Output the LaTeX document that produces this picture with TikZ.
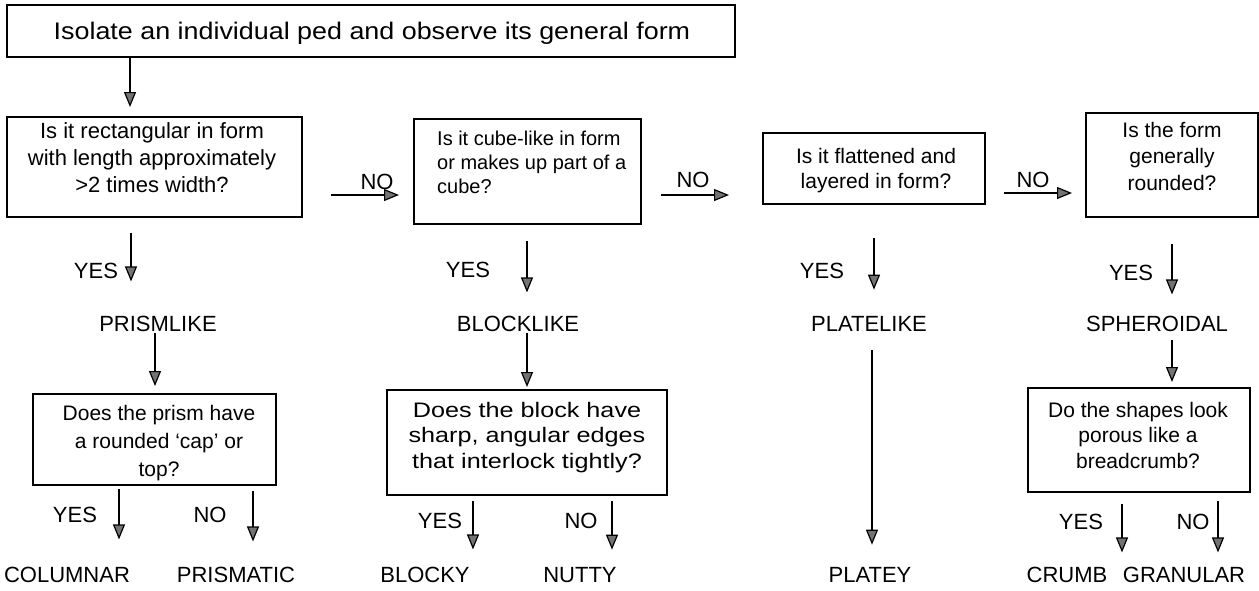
\documentclass[tikz,border=0pt]{standalone}
\usepackage{fontspec}
\setmainfont{Liberation Sans}
\usetikzlibrary{arrows.meta}
\newcommand\boxlines[2]{\begin{tabular}[t]{@{}#1@{}}#2\end{tabular}}
\begin{document}
\begin{tikzpicture}[x=1pt,y=-1pt,
  qbox/.style={draw, line width=2pt, inner sep=0pt},
  qtext/.style={font=\fontsize{21}{26}\selectfont, inner sep=0pt, anchor=base},
  lab/.style={font=\fontsize{22}{26}\selectfont, inner sep=0pt, anchor=base},
  arr/.style={line width=2pt, -{Triangle[length=15pt,width=12pt,fill=black!55,line width=1.2pt]}},
]
\fill[white] (0,0) rectangle (1259,590);
\useasboundingbox (0,0) rectangle (1259,590);

% question boxes
\node[qbox, minimum width=728pt, minimum height=52pt] (start) at (371,31) {};
\node[qbox, minimum width=295pt, minimum height=100pt] (q1) at (154.5,167) {};
\node[qbox, minimum width=227pt, minimum height=105pt] (q2) at (527.5,171.5) {};
\node[qbox, minimum width=222pt, minimum height=71pt] (q3) at (874,168.5) {};
\node[qbox, minimum width=172pt, minimum height=104pt] (q4) at (1172,165) {};
\node[qbox, minimum width=243pt, minimum height=91pt] (q5) at (154.5,439.5) {};
\node[qbox, minimum width=280pt, minimum height=105pt] (q6) at (527,442.5) {};
\node[qbox, minimum width=222pt, minimum height=104pt] (q7) at (1139,440) {};

% question texts
\node[qtext, font=\fontsize{24}{29}\selectfont] (startt) at (372,39)
  {\scalebox{1.12}[1]{Isolate an individual ped and observe its general form}};
\node[qtext, font=\fontsize{22}{27}\selectfont] (q1t) at (152,138)
  {\boxlines{c}{Is it rectangular in form\\with length approximately\\>2 times width?}};
\node[qtext, anchor=base west, font=\fontsize{20}{24}\selectfont] (q2t) at (437,145)
  {\boxlines{l}{Is it cube-like in form\\or makes up part of a\\cube?}};
\node[qtext, font=\fontsize{21}{25}\selectfont] (q3t) at (876,163)
  {\boxlines{c}{Is it flattened and\\layered in form?}};
\node[qtext, font=\fontsize{21}{26.5}\selectfont] (q4t) at (1172,137)
  {\boxlines{c}{Is the form\\generally\\rounded?}};
\node[qtext, font=\fontsize{21}{28}\selectfont] (q5t) at (159,420)
  {\boxlines{c}{Does the prism have\\a rounded ‘cap’ or\\top?}};
\node[qtext, font=\fontsize{21}{25.5}\selectfont] (q6t) at (527,417)
  {\scalebox{1.2}[1]{\boxlines{c}{Does the block have\\sharp, angular edges\\that interlock tightly?}}};
\node[qtext, font=\fontsize{21}{25.5}\selectfont] (q7t) at (1138,417)
  {\boxlines{c}{Do the shapes look\\porous like a\\breadcrumb?}};

% answer labels
\node[lab] (no1) at (377,189.5) {NO};
\node[lab] (no2) at (693,187.5) {NO};
\node[lab] (no3) at (1033,187) {NO};
\node[lab] (yes1) at (96,278) {YES};
\node[lab] (yes2) at (468,277) {YES};
\node[lab] (yes3) at (822,278) {YES};
\node[lab] (yes4) at (1131,280) {YES};
\node[lab] (yes5) at (75,522) {YES};
\node[lab] (no5) at (210,522) {NO};
\node[lab] (yes6) at (440,528) {YES};
\node[lab] (no6) at (581,528) {NO};
\node[lab] (yes7) at (1081,529) {YES};
\node[lab] (no7) at (1193,529) {NO};

% structure classes
\node[lab] (prism) at (158,331) {PRISMLIKE};
\node[lab] (block) at (518,331) {BLOCKLIKE};
\node[lab] (plate) at (869,331) {PLATELIKE};
\node[lab] (spher) at (1157,331) {SPHEROIDAL};

% structure types
\node[lab] (columnar) at (67,582) {COLUMNAR};
\node[lab] (prismatic) at (236,582) {PRISMATIC};
\node[lab] (blocky) at (425,582) {BLOCKY};
\node[lab] (nutty) at (580,582) {NUTTY};
\node[lab] (platey) at (870,582) {PLATEY};
\node[lab] (crumb) at (1067,582) {CRUMB};
\node[lab] (granular) at (1184,582) {GRANULAR};

% connectors
\draw[arr, shorten >=9pt] (start.south -| 130,0) -- (q1.north -| 130,0);
\draw[arr, shorten <=28pt, shorten >=14pt] (q1.east |- 0,195) -- (q2.west |- 0,195);
\draw[arr, shorten <=19pt, shorten >=33pt] (q2.east |- 0,195) -- (q3.west |- 0,195);
\draw[arr, shorten <=18pt, shorten >=13pt] (q3.east |- 0,193) -- (q4.west |- 0,193);

\draw[arr, shorten <=15pt, shorten >=34pt] (q1.south -| 131,0) -- (prism.north -| 131,0);
\draw[arr, shorten <=16pt, shorten >=23pt] (q2.south -| 527,0) -- (block.north -| 527,0);
\draw[arr, shorten <=33pt, shorten >=26pt] (q3.south -| 874,0) -- (plate.north -| 874,0);
\draw[arr, shorten <=26pt, shorten >=21pt] (q4.south -| 1172,0) -- (spher.north -| 1172,0);

\draw[arr, shorten <=2pt, shorten >=7pt] (prism.south -| 155,0) -- (q5.north -| 155,0);
\draw[arr, shorten <=2pt, shorten >=2pt] (block.south -| 527,0) -- (q6.north -| 527,0);
\draw[arr, shorten <=19pt, shorten >=22pt] (plate.south -| 872,0) -- (platey.north -| 872,0);
\draw[arr, shorten <=9pt, shorten >=5pt] (spher.south -| 1172,0) -- (q7.north -| 1172,0);

\draw[arr, shorten <=3pt, shorten >=27pt] (q5.south -| 119,0) -- (columnar.north -| 119,0);
\draw[arr, shorten <=5pt, shorten >=25pt] (q5.south -| 253,0) -- (prismatic.north -| 253,0);
\draw[arr, shorten <=5pt, shorten >=17pt] (q6.south -| 473,0) -- (blocky.north -| 473,0);
\draw[arr, shorten <=5pt, shorten >=17pt] (q6.south -| 612,0) -- (nutty.north -| 612,0);
\draw[arr, shorten <=11pt, shorten >=14pt] (q7.south -| 1122,0) -- (crumb.north -| 1122,0);
\draw[arr, shorten <=8pt, shorten >=14pt] (q7.south -| 1218,0) -- (granular.north -| 1218,0);
\end{tikzpicture}
\end{document}
